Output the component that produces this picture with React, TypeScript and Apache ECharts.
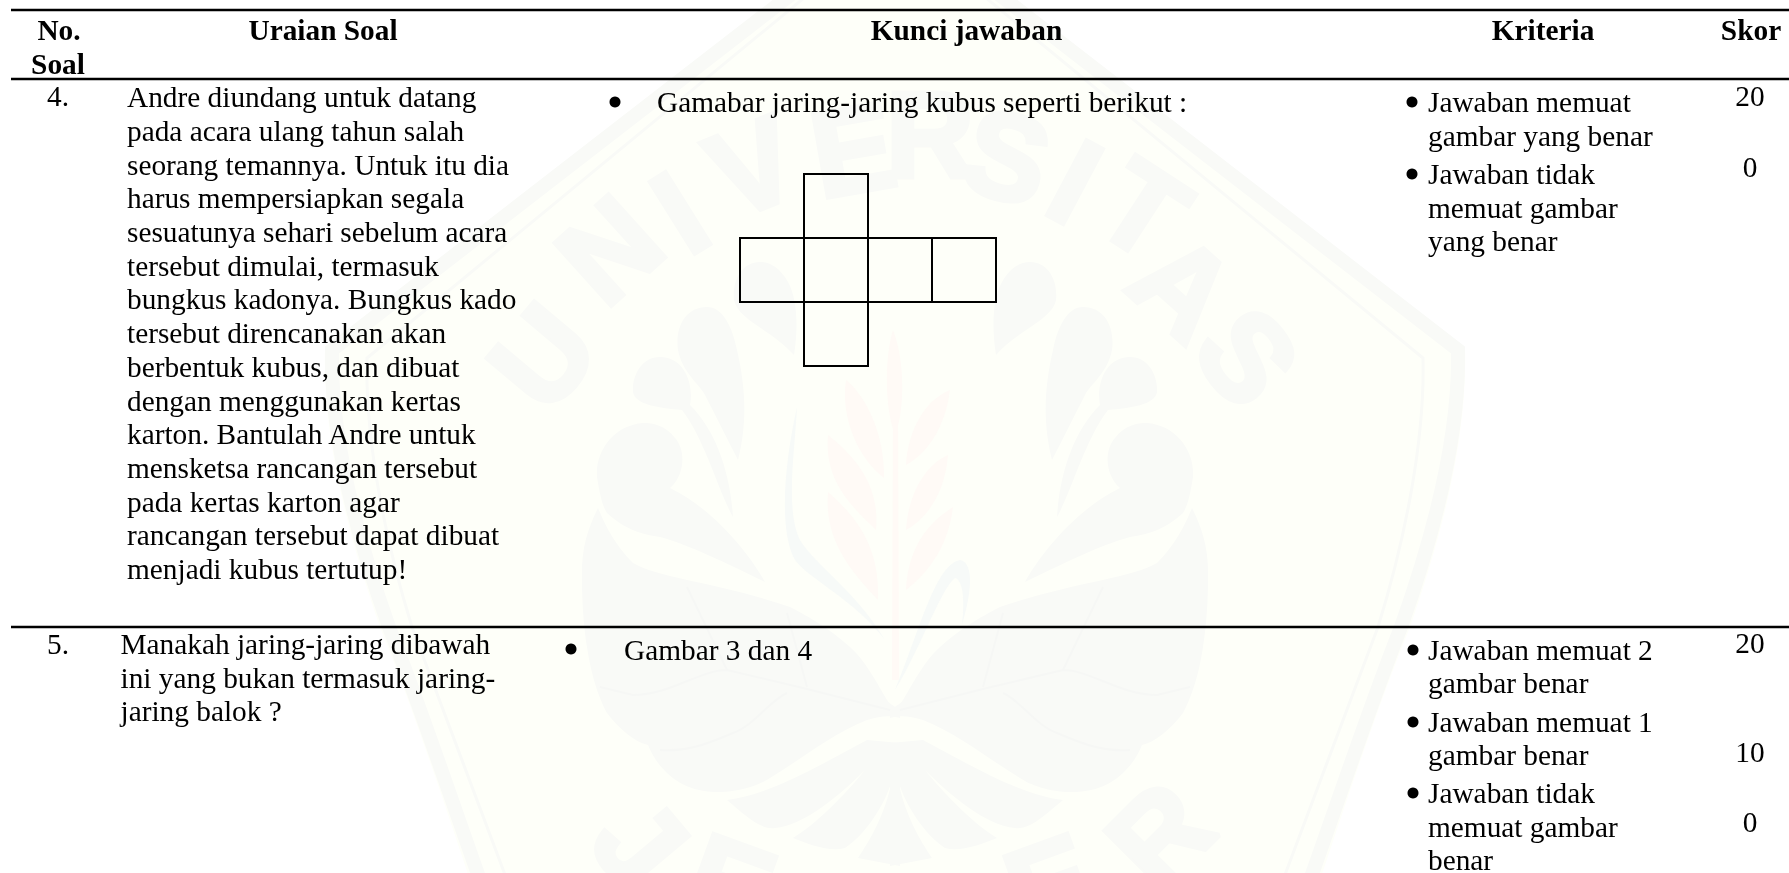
import React, { useEffect, useRef } from "react";
import * as echarts from "echarts";

const W = 1789, H = 873;
const FONT = '"Liberation Serif", serif';
const SIZE = 29.33;
const HEADERS = [
  { t: "No.", cx: 59, b: 39 }, { t: "Soal", cx: 58, b: 73 }, { t: "Uraian Soal", cx: 323, b: 39 },
  { t: "Kunci jawaban", cx: 966.5, b: 39 }, { t: "Kriteria", cx: 1543, b: 39 }, { t: "Skor", cx: 1751, b: 39 },
];
const Q4 = [
  "Andre diundang untuk datang", "pada acara ulang tahun salah", "seorang temannya. Untuk itu dia",
  "harus mempersiapkan segala", "sesuatunya sehari sebelum acara", "tersebut dimulai, termasuk",
  "bungkus kadonya. Bungkus kado", "tersebut direncanakan akan", "berbentuk kubus, dan dibuat",
  "dengan menggunakan kertas", "karton. Bantulah Andre untuk", "mensketsa rancangan tersebut",
  "pada kertas karton agar", "rancangan tersebut dapat dibuat", "menjadi kubus tertutup!",
];
const Q5 = ["Manakah jaring-jaring dibawah", "ini yang bukan termasuk jaring-", "jaring balok ?"];
const CRIT4: [string, number][] = [["Jawaban memuat", 111], ["gambar yang benar", 145], ["Jawaban tidak", 183], ["memuat gambar", 217], ["yang benar", 250]];
const CRIT5: [string, number][] = [["Jawaban memuat 2", 659], ["gambar benar", 692], ["Jawaban memuat 1", 731], ["gambar benar", 764], ["Jawaban tidak", 802], ["memuat gambar", 836], ["benar", 869]];
const SCORES: [string, number][] = [["20", 105], ["0", 176], ["20", 652], ["10", 761], ["0", 831]];
const BULLETS: [number, number, number][] = [[615, 102, 5.5], [1412, 102, 5.5], [1412, 174, 5.5], [571, 649, 5.5], [1413, 650, 5.5], [1413, 722, 5.5], [1413, 793, 5.5]];
const NET_X = [740, 804, 868, 932, 996];
const NET_Y = [174, 238, 302, 366];
const NET_CELLS: [number, number][] = [[1, 0], [0, 1], [1, 1], [2, 1], [3, 1], [1, 2]];
const RULES = [10, 79, 627];

const CX = 895;
const WM_LETTERS: [string, number, number, number][] = [
  ["U", 543, 357, 50], ["N", 610, 250, 42], ["I", 680, 213, 32], ["V", 753, 167, 22], ["E", 853, 150, 10],
  ["R", 930, 135, 0], ["S", 1007, 157, -15], ["I", 1075, 182, -28], ["T", 1143, 210, -33], ["A", 1183, 287, -42], ["S", 1247, 357, -52],
  ["J", 640, 843, -50], ["E", 730, 885, -20], ["E", 1050, 885, 20], ["R", 1160, 835, 45],
];
const SHIELD = "M895 -92 L1465 347 C1468 440 1440 540 1410 627 C1380 700 1350 790 1320 880 L470 880 C440 790 410 700 380 627 C350 540 322 440 325 347 Z";
const BAND = "M895 -86 L1458 350 C1460 440 1432 540 1401 627 C1372 700 1342 790 1310 880 M895 -86 L332 350 C330 440 358 540 389 627 C418 700 448 790 480 880";
const THIN = "M895 -77 L1423 358 C1425 440 1405 540 1378 627 C1355 690 1320 780 1283 880 M895 -77 L367 358 C365 440 385 540 412 627 C435 690 470 780 507 880";
const LEAVES_R =
  "M1030 262 C1048 262 1058 280 1056 300 C1052 320 1018 330 996 355 C992 330 992 300 1002 282 C1010 268 1020 262 1030 262 Z " +
  "M1083 307 C1105 307 1115 328 1112 350 C1108 372 1090 385 1085 395 L1052 460 C1042 420 1045 385 1053 350 C1058 325 1068 307 1083 307 Z " +
  "M1130 357 C1148 357 1158 375 1157 392 C1155 405 1130 408 1108 410 C1085 440 1072 490 1057 517 C1060 470 1075 430 1100 405 C1096 385 1105 357 1130 357 Z " +
  "M1025 582 C1040 555 1075 510 1120 488 C1105 475 1104 450 1115 438 C1125 425 1137 423 1147 423 C1175 425 1195 450 1193 477 C1190 495 1188 505 1183 513 C1165 530 1145 535 1130 537 C1100 545 1060 565 1025 582 Z " +
  "M1192 508 C1203 530 1209 550 1208 580 C1208 610 1205 635 1203 647 C1198 680 1190 700 1183 713 C1170 730 1155 742 1142 745 C1136 760 1128 768 1123 773 C1105 790 1085 792 1070 792 C1050 792 1030 785 1020 778 C990 760 960 735 923 720 C910 716 900 715 890 718 L890 712 C895 705 900 705 903 700 C915 680 925 660 940 647 C965 625 985 615 1000 607 C1035 595 1070 587 1103 580 C1125 575 1145 570 1157 563 C1175 545 1185 525 1192 508 Z " +
  "M923 740 C970 765 1020 795 1063 800 C1045 815 1030 830 1015 828 C985 825 950 795 925 770 C945 795 975 825 997 838 C980 845 960 852 945 848 C925 835 905 805 898 780 C905 815 920 840 932 858 L890 866 L890 743 Z";
const VEINS_R = "M900 710 L987 688 L1063 670 C1090 670 1120 695 1157 695 L1190 687 M1003 693 C1020 700 1035 725 1057 733 C1085 745 1105 752 1130 750 M983 687 L1003 613 M1063 670 L1103 587";
const HOOK_R = "M895 690 C920 630 935 565 960 560 C972 562 974 585 962 625 C965 600 963 580 955 578 C940 590 920 650 895 690 Z";
const SLIVER_L = "M797 407 C795 450 785 510 800 540 C815 565 855 590 885 640 C855 600 810 580 795 560 C778 530 785 460 797 407 Z";
const WHEAT =
  "M846 380 C870 400 885 440 884 478 C860 460 840 420 846 380 Z " +
  "M828 435 C860 460 880 490 876 530 C850 505 824 480 828 435 Z " +
  "M828 492 C860 520 880 550 878 600 C850 570 824 540 828 492 Z " +
  "M950 390 C945 430 925 455 906 465 C908 430 925 400 950 390 Z " +
  "M948 455 C945 495 925 520 906 530 C908 495 925 465 948 455 Z " +
  "M953 507 C948 550 925 575 906 590 C908 550 925 525 953 507 Z " +
  "M893 330 C905 360 905 410 895 435 C885 410 884 360 893 330 Z M893 380 L898 380 L899 680 L892 680 Z";

const shape = (name: string, d: string) => { echarts.graphic.registerShape(name, echarts.graphic.extendPath(d, {})); };
shape("wmShield", SHIELD);
shape("wmBand", BAND);
shape("wmThin", THIN);
shape("wmLeaves", LEAVES_R);
shape("wmVeins", VEINS_R);
shape("wmHook", HOOK_R);
shape("wmSliver", SLIVER_L);
shape("wmWheat", WHEAT);

const WM_FILL = "#F9FAF7";
const WM_BG = "#FEFFF9";

export default function App() {
  const ref = useRef<HTMLDivElement>(null);
  useEffect(() => {
    const chart = echarts.init(ref.current!, undefined, { renderer: "svg" });
    const txt = (t: string, x: number, base: number, align: string = "left", bold = false) => ({
      type: "text", x, y: base - SIZE * 0.3,
      style: { text: t, fill: "#000", font: `${bold ? "bold " : ""}${SIZE}px ${FONT}`, textAlign: align, textVerticalAlign: "middle" },
    });
    const els: any[] = [
      { type: "rect", shape: { x: 0, y: 0, width: W, height: H }, style: { fill: "#fff" } },
      { type: "wmShield", style: { fill: WM_BG } },
      { type: "wmBand", style: { fill: "none", stroke: WM_FILL, lineWidth: 14 } },
      { type: "wmThin", style: { fill: "none", stroke: WM_FILL, lineWidth: 3 } },
      { type: "wmLeaves", style: { fill: WM_FILL } },
      { type: "wmLeaves", x: 2 * CX, scaleX: -1, style: { fill: WM_FILL } },
      { type: "wmVeins", style: { fill: "none", stroke: "#F6F7F5", lineWidth: 2 } },
      { type: "wmVeins", x: 2 * CX, scaleX: -1, style: { fill: "none", stroke: "#F6F7F5", lineWidth: 2 } },
      { type: "wmHook", style: { fill: "#F7FAF8" } },
      { type: "wmSliver", style: { fill: "#F7FAF8" } },
      { type: "wmWheat", style: { fill: "#FFFAF6" } },
    ];
    WM_LETTERS.forEach(([c, x, y, rot]) => els.push({
      type: "text", x, y, rotation: (rot * Math.PI) / 180,
      style: { text: c, fill: WM_FILL, stroke: WM_FILL, lineWidth: 5, font: `bold 122px "Liberation Sans", sans-serif`, textAlign: "center", textVerticalAlign: "middle" },
    }));
    RULES.forEach((y) => els.push({ type: "line", shape: { x1: 11, y1: y, x2: W, y2: y }, style: { stroke: "#000", lineWidth: 2.4 } }));
    HEADERS.forEach((h) => els.push(txt(h.t, h.cx, h.b, "center", true)));
    els.push(txt("4.", 58, 105, "center"));
    Q4.forEach((l, i) => els.push(txt(l, 127, 106 + i * 33.7)));
    els.push(txt("Gamabar jaring-jaring kubus seperti berikut :", 657, 110.5));
    els.push(txt("5.", 58, 653, "center"));
    Q5.forEach((l, i) => els.push(txt(l, 120.5, 653 + i * 33.4)));
    els.push(txt("Gambar 3 dan 4", 624, 659));
    [...CRIT4, ...CRIT5].forEach(([l, b]) => els.push(txt(l, 1428, b)));
    SCORES.forEach(([s, b]) => els.push(txt(s, 1750, b, "center")));
    BULLETS.forEach(([x, y, r]) => els.push({ type: "circle", shape: { cx: x, cy: y, r }, style: { fill: "#000" } }));
    NET_CELLS.forEach(([c, r]) => els.push({
      type: "rect",
      shape: { x: NET_X[c], y: NET_Y[r], width: NET_X[c + 1] - NET_X[c], height: NET_Y[r + 1] - NET_Y[r] },
      style: { fill: "none", stroke: "#000", lineWidth: 2 },
    }));
    chart.setOption({ animation: false, graphic: { elements: els } });
    return () => chart.dispose();
  }, []);
  return <div ref={ref} style={{ position: "fixed", left: 0, top: 0, width: W, height: H }} />;
}
